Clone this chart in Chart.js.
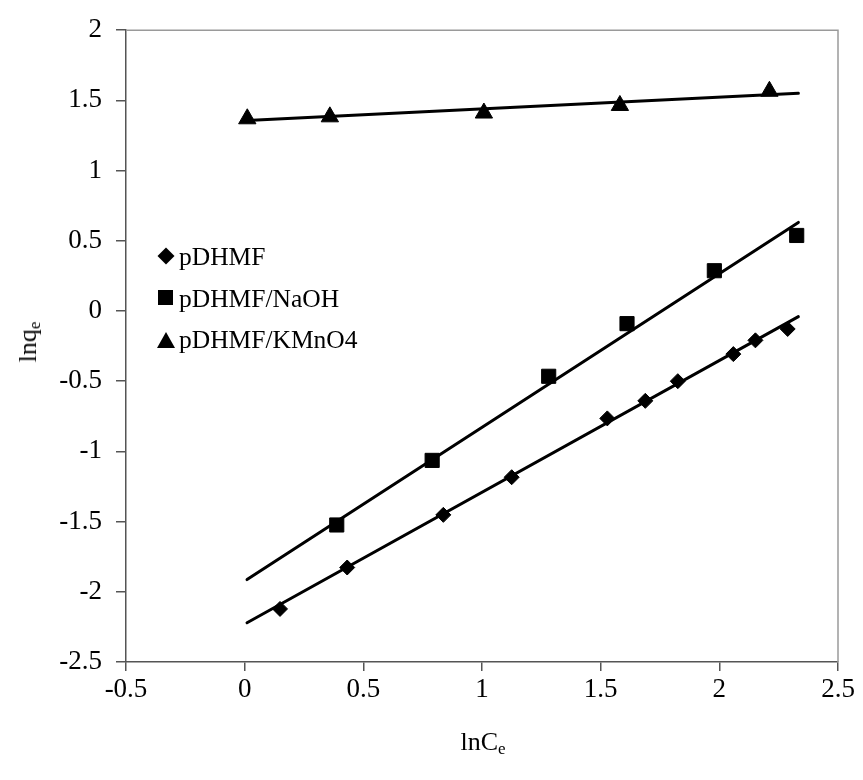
<!DOCTYPE html>
<html>
<head>
<meta charset="utf-8">
<script src="https://cdn.jsdelivr.net/npm/chart.js@4/dist/chart.umd.min.js"></script>
<style>
  html, body { margin: 0; padding: 0; background: #fff; }
  #wrap { position: relative; width: 863px; height: 780px; font-family: 'Liberation Serif', 'Times New Roman', serif; color: #000; }
  #chart { position: absolute; left: 0; top: 0; }
  .legend { position: absolute; left: 157px; top: 236px; font-size: 25.5px; line-height: 41.5px; }
  .legend .row { display: flex; align-items: center; white-space: nowrap; }
  .legend .mk { width: 22px; height: 20px; position: relative; margin-right: 0; }
  .mk.dia::before { content: ''; position: absolute; left: 2.5px; top: 3.5px; width: 12px; height: 12px; background: #000; transform: rotate(45deg); }
  .mk.sq::before { content: ''; position: absolute; left: 1px; top: 2px; width: 15px; height: 15px; background: #000; }
  .mk.tri::before { content: ''; position: absolute; left: 0; top: 2px; width: 0; height: 0; border-left: 9px solid transparent; border-right: 9px solid transparent; border-bottom: 16px solid #000; }
  .xtitle { position: absolute; left: 0; width: 966px; top: 727px; text-align: center; font-size: 26px; }
  .ytitle { position: absolute; left: 29px; top: 342px; font-size: 26px; transform: translate(-50%, -50%) rotate(-90deg); white-space: nowrap; }
  sub { font-size: 17px; vertical-align: -4px; }
</style>
</head>
<body>
<div id="wrap">
  <canvas id="chart" width="863" height="780"></canvas>
  <div class="legend">
    <div class="row"><span class="mk dia"></span>pDHMF</div>
    <div class="row"><span class="mk sq"></span>pDHMF/NaOH</div>
    <div class="row"><span class="mk tri"></span>pDHMF/KMnO4</div>
  </div>
  <div class="xtitle">lnC<sub>e</sub></div>
  <div class="ytitle">lnq<sub>e</sub></div>
</div>
<script>
const pdhmfX = [0.149, 0.432, 0.837, 1.125, 1.528, 1.688, 1.825, 2.059, 2.152, 2.288];
const pdhmfY = [-2.122, -1.827, -1.452, -1.184, -0.765, -0.640, -0.500, -0.307, -0.209, -0.128];

const naohX = [0.388, 0.790, 1.281, 1.611, 1.979, 2.326];
const naohY = [-1.524, -1.064, -0.465, -0.090, 0.287, 0.538];

const kmno4X = [0.011, 0.359, 1.008, 1.581, 2.211];
const kmno4Y = [1.369, 1.383, 1.410, 1.464, 1.565];

// linear trend lines (end points)
const trendX = [0.01, 2.333];
const pdhmfTrendY = [-2.22, -0.04];
const naohTrendY = [-1.913, 0.631];
const kmno4TrendY = [1.357, 1.551];

const xTicks = [-0.5, 0, 0.5, 1, 1.5, 2, 2.5];
const yTicks = [-2.5, -2, -1.5, -1, -0.5, 0, 0.5, 1, 1.5, 2];

const zip = (xs, ys) => xs.map((x, i) => ({ x, y: ys[i] }));

function markerSet(label, xs, ys, style, radius) {
  return {
    label,
    data: zip(xs, ys),
    showLine: false,
    pointStyle: style,
    pointRadius: radius,
    pointBackgroundColor: '#000',
    pointBorderColor: '#000',
    pointBorderWidth: 1,
  };
}

function trendSet(ys) {
  return {
    data: zip(trendX, ys),
    showLine: true,
    borderColor: '#000',
    borderWidth: 3,
    pointRadius: 0,
    borderCapStyle: 'round',
  };
}

// gray top/right frame like the original plot area
const framePlugin = {
  id: 'frame',
  beforeDatasetsDraw(chart) {
    const { ctx, chartArea: a } = chart;
    ctx.save();
    ctx.strokeStyle = '#9a9a9a';
    ctx.lineWidth = 1.5;
    ctx.beginPath();
    ctx.moveTo(a.left, a.top);
    ctx.lineTo(a.right, a.top);
    ctx.lineTo(a.right, a.bottom);
    ctx.stroke();
    ctx.restore();
  }
};

const tickFont = { family: "'Liberation Serif', 'Times New Roman', serif", size: 27 };
const fmt = v => String(+v.toFixed(2));

new Chart(document.getElementById('chart').getContext('2d'), {
  type: 'scatter',
  data: {
    datasets: [
      trendSet(pdhmfTrendY),
      trendSet(naohTrendY),
      trendSet(kmno4TrendY),
      markerSet('pDHMF', pdhmfX, pdhmfY, 'rectRot', 7.5),
      markerSet('pDHMF/NaOH', naohX, naohY, 'rect', 10),
      markerSet('pDHMF/KMnO4', kmno4X, kmno4Y, 'triangle', 10),
    ]
  },
  options: {
    responsive: false,
    animation: false,
    layout: { padding: { top: 18, right: 25, left: 0, bottom: 0 } },
    plugins: {
      legend: { display: false },
      tooltip: { enabled: false },
    },
    scales: {
      x: {
        type: 'linear',
        min: xTicks[0], max: xTicks[xTicks.length - 1],
        afterFit: s => { s.height = 118; },
        afterBuildTicks: s => { s.ticks = xTicks.map(value => ({ value })); },
        ticks: { color: '#000', font: tickFont, padding: 3, maxRotation: 0, callback: fmt },
        grid: { display: true, drawOnChartArea: false, drawTicks: true, tickLength: 9, color: '#555', lineWidth: 1.5 },
        border: { color: '#555', width: 1.5 },
      },
      y: {
        type: 'linear',
        min: yTicks[0], max: yTicks[yTicks.length - 1],
        afterFit: s => { s.width = 126; },
        afterBuildTicks: s => { s.ticks = yTicks.map(value => ({ value })); },
        ticks: { color: '#000', font: tickFont, padding: 14, callback: fmt },
        grid: { display: true, drawOnChartArea: false, drawTicks: true, tickLength: 10, color: '#555', lineWidth: 1.5 },
        border: { color: '#555', width: 1.5 },
      }
    }
  },
  plugins: [framePlugin]
});
</script>
</body>
</html>
